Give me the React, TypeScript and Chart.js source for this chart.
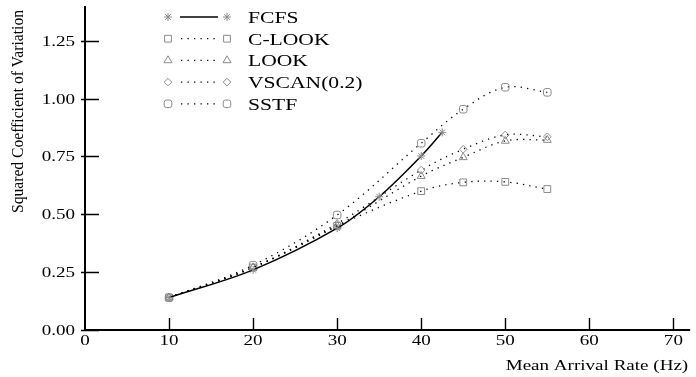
import React, { useEffect, useRef } from 'react';
import { Chart, registerables } from 'chart.js';

Chart.register(...registerables);

// ---------- data ----------
const seriesNames = ['FCFS', 'C-LOOK', 'LOOK', 'VSCAN(0.2)', 'SSTF'];
const fcfsRates = [10, 20, 30, 35, 40, 42.5];
const fcfsScv = [0.14, 0.26, 0.44, 0.576, 0.752, 0.854];
const rates = [10, 20, 30, 40, 45, 50, 55];
const clookScv = [0.14, 0.27, 0.45, 0.6, 0.638, 0.64, 0.609];
const lookScv = [0.14, 0.27, 0.45, 0.665, 0.746, 0.817, 0.821];
const vscanScv = [0.14, 0.27, 0.46, 0.691, 0.781, 0.843, 0.835];
const sstfScv = [0.14, 0.28, 0.497, 0.807, 0.954, 1.049, 1.027];
const xTickValues = [0, 10, 20, 30, 40, 50, 60, 70];
const xTickLabels = ['0', '10', '20', '30', '40', '50', '60', '70'];
const yTickValues = [0, 0.25, 0.5, 0.75, 1.0, 1.25];
const yTickLabels = ['0.00', '0.25', '0.50', '0.75', '1.00', '1.25'];
const xTitle = 'Mean Arrival Rate (Hz)';
const yTitle = 'Squared Coefficient of Variation';

// ---------- styles ----------
const SX = 1.27;
const FONT = '"Liberation Serif", "Times New Roman", serif';
const MARKER_COLOR = '#8a8a8a';
const seriesStyles = [
  { pointStyle: 'star', radius: 4, dashed: false },
  { pointStyle: 'rect', radius: 4.8, dashed: true },
  { pointStyle: 'triangle', radius: 4.6, dashed: true },
  { pointStyle: 'rectRot', radius: 3.8, dashed: true },
  { pointStyle: 'rectRounded', radius: 4.4, dashed: true },
];

function toPoints(xs: number[], ys: number[]) {
  return xs.map((x, i) => ({ x, y: ys[i] }));
}

function drawStretched(
  ctx: CanvasRenderingContext2D,
  text: string,
  x: number,
  y: number,
  align: 'left' | 'right' | 'center',
  size: number,
  sx: number = SX
) {
  ctx.save();
  ctx.font = `${size}px ${FONT}`;
  ctx.textBaseline = 'alphabetic';
  ctx.textAlign = 'left';
  const w = ctx.measureText(text).width * sx;
  let left = x;
  if (align === 'right') left = x - w;
  else if (align === 'center') left = x - w / 2;
  ctx.translate(left, y);
  ctx.scale(sx, 1);
  ctx.fillStyle = '#000';
  ctx.fillText(text, 0, 0);
  ctx.restore();
}

function drawMarker(ctx: CanvasRenderingContext2D, style: string, x: number, y: number, r: number) {
  ctx.save();
  ctx.strokeStyle = MARKER_COLOR;
  ctx.lineWidth = 1;
  ctx.beginPath();
  if (style === 'star') {
    const s = Math.SQRT1_2 * r;
    ctx.moveTo(x, y - r); ctx.lineTo(x, y + r);
    ctx.moveTo(x - r, y); ctx.lineTo(x + r, y);
    ctx.moveTo(x - s, y - s); ctx.lineTo(x + s, y + s);
    ctx.moveTo(x - s, y + s); ctx.lineTo(x + s, y - s);
  } else if (style === 'rect') {
    const s = Math.SQRT1_2 * r;
    ctx.rect(x - s, y - s, 2 * s, 2 * s);
  } else if (style === 'triangle') {
    ctx.moveTo(x, y - r);
    ctx.lineTo(x + 0.866 * r, y + 0.5 * r);
    ctx.lineTo(x - 0.866 * r, y + 0.5 * r);
    ctx.closePath();
  } else if (style === 'rectRot') {
    ctx.moveTo(x - r, y); ctx.lineTo(x, y - r); ctx.lineTo(x + r, y); ctx.lineTo(x, y + r);
    ctx.closePath();
  } else {
    const h = 0.858 * r;
    (ctx as any).roundRect(x - h, y - h, 2 * h, 2 * h, 0.516 * r);
  }
  ctx.stroke();
  ctx.restore();
}

const decorPlugin = {
  id: 'decor',
  beforeDatasetsDraw(chart: any) {
    const ctx: CanvasRenderingContext2D = chart.ctx;
    const xs = chart.scales.x;
    const ys = chart.scales.y;
    const x0 = xs.getPixelForValue(0);
    const y0 = ys.getPixelForValue(0);
    ctx.save();
    ctx.strokeStyle = '#000';
    // axes
    ctx.lineWidth = 2;
    ctx.beginPath();
    ctx.moveTo(x0, chart.chartArea.top);
    ctx.lineTo(x0, y0 + 1);
    ctx.moveTo(x0 - 1, y0);
    ctx.lineTo(chart.chartArea.right, y0);
    ctx.stroke();
    // ticks
    ctx.lineWidth = 1.4;
    ctx.beginPath();
    yTickValues.forEach((v) => {
      const py = Math.round(ys.getPixelForValue(v)) + 0.5;
      ctx.moveTo(x0 - 4, py);
      ctx.lineTo(x0 + 14, py);
    });
    xTickValues.forEach((v) => {
      if (v === 0) return;
      const px = Math.round(xs.getPixelForValue(v)) + 0.5;
      ctx.moveTo(px, y0);
      ctx.lineTo(px, y0 - 12);
    });
    ctx.stroke();
    ctx.restore();
  },
  afterDraw(chart: any) {
    const ctx: CanvasRenderingContext2D = chart.ctx;
    const xs = chart.scales.x;
    const ys = chart.scales.y;
    const x0 = xs.getPixelForValue(0);
    const y0 = ys.getPixelForValue(0);
    // tick labels
    yTickValues.forEach((v, i) => {
      drawStretched(ctx, yTickLabels[i], x0 - 10, ys.getPixelForValue(v) + 5, 'right', 15);
    });
    xTickValues.forEach((v, i) => {
      drawStretched(ctx, xTickLabels[i], xs.getPixelForValue(v), y0 + 15, 'center', 15);
    });
    // axis titles
    drawStretched(ctx, xTitle, chart.chartArea.right - 2, y0 + 40, 'right', 15);
    ctx.save();
    ctx.font = `15px ${FONT}`;
    ctx.textAlign = 'center';
    ctx.textBaseline = 'alphabetic';
    ctx.fillStyle = '#000';
    ctx.translate(22.5, 111.5);
    ctx.rotate(-Math.PI / 2);
    const tw = ctx.measureText(yTitle).width;
    ctx.scale(203 / tw, 1.1);
    ctx.fillText(yTitle, 0, 0);
    ctx.restore();
    // legend
    const rowY = [17, 38.7, 60.4, 82.1, 103.8];
    seriesNames.forEach((name, i) => {
      const st = seriesStyles[i];
      const cy = rowY[i];
      drawMarker(ctx, st.pointStyle, 168, cy, st.radius);
      drawMarker(ctx, st.pointStyle, 227, cy, st.radius);
      ctx.save();
      ctx.strokeStyle = '#000';
      ctx.beginPath();
      if (st.dashed) {
        ctx.lineWidth = 1.3;
        ctx.setLineDash([1.3, 5.2]);
        ctx.moveTo(181, cy);
        ctx.lineTo(220, cy);
      } else {
        ctx.lineWidth = 1.5;
        ctx.moveTo(180, cy);
        ctx.lineTo(218, cy);
      }
      ctx.stroke();
      ctx.restore();
      drawStretched(ctx, name, 248, cy + 5.8, 'left', 17);
    });
  },
};

export default function App() {
  const ref = useRef<HTMLCanvasElement | null>(null);
  useEffect(() => {
    document.body.style.margin = '0';
    const canvas = ref.current;
    if (!canvas) return;
    const allData = [
      toPoints(fcfsRates, fcfsScv),
      toPoints(rates, clookScv),
      toPoints(rates, lookScv),
      toPoints(rates, vscanScv),
      toPoints(rates, sstfScv),
    ];
    const datasets = seriesNames.map((name, i) => {
      const st = seriesStyles[i];
      return {
        label: name,
        data: allData[i],
        borderColor: '#000',
        borderWidth: st.dashed ? 1.3 : 1.5,
        borderDash: st.dashed ? [1.3, 5.2] : [],
        tension: 0.35,
        fill: false,
        pointStyle: st.pointStyle as any,
        pointRadius: st.radius,
        pointBorderColor: MARKER_COLOR,
        pointBorderWidth: 1,
        pointBackgroundColor: 'rgba(0,0,0,0)',
        clip: false as any,
      };
    });
    const chart = new Chart(canvas, {
      type: 'line',
      data: { datasets },
      options: {
        animation: false,
        responsive: false,
        events: [],
        layout: { padding: { left: 85, right: 0, top: 6, bottom: 47 } },
        plugins: { legend: { display: false }, tooltip: { enabled: false } },
        scales: {
          x: {
            type: 'linear',
            min: 0,
            max: 72,
            ticks: { display: false, stepSize: 10 },
            grid: { display: false, drawTicks: false, tickLength: 0 },
            border: { display: false },
          },
          y: {
            type: 'linear',
            min: 0,
            max: 1.4,
            ticks: { display: false, stepSize: 0.25 },
            grid: { display: false, drawTicks: false, tickLength: 0 },
            border: { display: false },
          },
        },
      },
      plugins: [decorPlugin],
    });
    return () => chart.destroy();
  }, []);
  return (
    <div style={{ width: 696, height: 377 }}>
      <canvas ref={ref} width={696} height={377} style={{ display: 'block' }} />
    </div>
  );
}
